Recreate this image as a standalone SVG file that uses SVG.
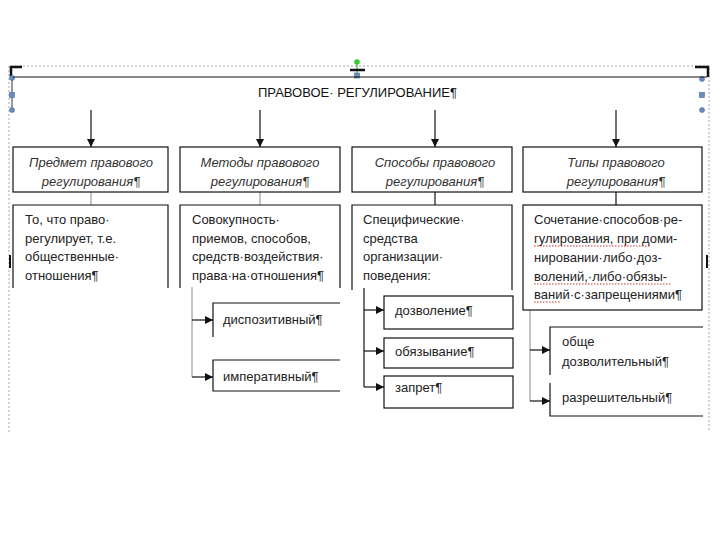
<svg xmlns="http://www.w3.org/2000/svg" width="720" height="540" viewBox="0 0 720 540">
<style>
  .box{fill:#fff;stroke:#111;stroke-width:1.2}
  .open{fill:none;stroke:#111;stroke-width:1.2}
  .hdr{font-family:"Liberation Sans",Arial,sans-serif;font-size:13px;font-style:italic;fill:#333;text-anchor:middle}
  .txt{font-family:"Liberation Sans",Arial,sans-serif;font-size:13px;fill:#222}
  .ttl{font-family:"Liberation Sans",Arial,sans-serif;font-size:13px;fill:#111}
  .con{fill:none;stroke:#111;stroke-width:1.2}
  .gray{fill:none;stroke:#888;stroke-width:1}
  .sel{fill:none;stroke:#9ab;stroke-width:1;stroke-dasharray:2 2}
  .hnd{fill:#6a8cc0;stroke:#4a6a9a;stroke-width:0.6}
  .sq{stroke:#b00;stroke-width:0.8;fill:none;stroke-dasharray:1.5 1.5}
</style>
<defs>
  <marker id="ah" viewBox="0 0 10 10" refX="10" refY="5" markerWidth="8" markerHeight="8" markerUnits="userSpaceOnUse" orient="auto">
    <path d="M0,0 L10,5 L0,10 z" fill="#111"/>
  </marker>
</defs>
<rect width="720" height="540" fill="#fff"/>

<g id="selection">
  <path class="sel" d="M9,432 V66 H709 V432"/>
  <path d="M11,77 V67 H22" fill="none" stroke="#111" stroke-width="2.5"/>
  <path d="M695,67 H708 V77" fill="none" stroke="#111" stroke-width="2.5"/>
  <line x1="12" y1="78" x2="12" y2="110" stroke="#333" stroke-width="1"/>
  <circle class="hnd" cx="12" cy="78" r="2.5"/>
  <rect class="hnd" x="9.5" y="92.5" width="5" height="5"/>
  <circle class="hnd" cx="12" cy="110" r="2.5"/>
  <circle class="hnd" cx="702" cy="79" r="2.5"/>
  <rect class="hnd" x="699.5" y="92.5" width="5" height="5"/>
  <circle class="hnd" cx="702" cy="110" r="2.5"/>
  <line x1="357" y1="62" x2="357" y2="75" stroke="#2a2" stroke-width="1"/>
  <circle cx="357" cy="62" r="2.8" fill="#3c3"/>
  <line x1="350" y1="70" x2="365" y2="70" stroke="#111" stroke-width="2.5"/>
  <rect class="hnd" x="354.5" y="73" width="5" height="5"/>
  <line x1="10" y1="255" x2="10" y2="268" stroke="#111" stroke-width="2"/>
  <line x1="707" y1="255" x2="707" y2="268" stroke="#111" stroke-width="2"/>
</g>

<g id="title">
  <line x1="13" y1="77" x2="707" y2="77" stroke="#111" stroke-width="1.2"/>
  <text class="ttl" x="258" y="97">ПРАВОВОЕ· РЕГУЛИРОВАНИЕ¶</text>
</g>

<g id="connectors">
  <line class="con" x1="91" y1="110" x2="91" y2="147" marker-end="url(#ah)"/>
  <line class="con" x1="260" y1="110" x2="260" y2="147" marker-end="url(#ah)"/>
  <line class="con" x1="435" y1="110" x2="435" y2="147" marker-end="url(#ah)"/>
  <line class="con" x1="616" y1="110" x2="616" y2="147" marker-end="url(#ah)"/>
  <line class="gray" x1="91" y1="192" x2="91" y2="205"/>
  <line class="gray" x1="260" y1="192" x2="260" y2="205"/>
  <line class="con" x1="435" y1="192" x2="435" y2="205"/>
  <line class="con" x1="616" y1="192" x2="616" y2="205"/>
  <line class="gray" x1="192" y1="287" x2="192" y2="377"/>
  <line class="con" x1="192" y1="320" x2="213" y2="320" marker-end="url(#ah)"/>
  <line class="con" x1="192" y1="377" x2="213" y2="377" marker-end="url(#ah)"/>
  <line class="con" x1="364" y1="288" x2="364" y2="387"/>
  <line class="con" x1="364" y1="310" x2="384" y2="310" marker-end="url(#ah)"/>
  <line class="con" x1="364" y1="351" x2="384" y2="351" marker-end="url(#ah)"/>
  <line class="con" x1="364" y1="387" x2="384" y2="387" marker-end="url(#ah)"/>
  <line class="gray" x1="530" y1="310" x2="530" y2="401" stroke="#555"/>
  <line class="con" x1="530" y1="350" x2="550" y2="350" marker-end="url(#ah)"/>
  <line class="con" x1="530" y1="401" x2="550" y2="401" marker-end="url(#ah)"/>
</g>

<g id="h1">
  <rect class="box" x="13" y="147" width="155" height="45"/>
  <text class="hdr" x="91" y="167">Предмет правового</text>
  <text class="hdr" x="91" y="186">регулирования¶</text>
</g>
<g id="h2">
  <rect class="box" x="180" y="147" width="160" height="45"/>
  <text class="hdr" x="260" y="167">Методы правового</text>
  <text class="hdr" x="260" y="186">регулирования¶</text>
</g>
<g id="h3">
  <rect class="box" x="352" y="147" width="160" height="45"/>
  <text class="hdr" x="435" y="167">Способы правового</text>
  <text class="hdr" x="435" y="186">регулирования¶</text>
</g>
<g id="h4">
  <rect class="box" x="523" y="147" width="179" height="45"/>
  <text class="hdr" x="616" y="167">Типы правового</text>
  <text class="hdr" x="616" y="186">регулирования¶</text>
</g>

<g id="d1">
  <path class="open" d="M13,288 V205 H168 V288"/>
  <text class="txt" x="25" y="224">То, что право·</text>
  <text class="txt" x="25" y="243">регулирует, т.е.</text>
  <text class="txt" x="25" y="261">общественные·</text>
  <text class="txt" x="25" y="280">отношения¶</text>
</g>
<g id="d2">
  <path class="open" d="M180,288 V205 H340 V288"/>
  <text class="txt" x="192" y="224">Совокупность·</text>
  <text class="txt" x="192" y="243">приемов, способов,</text>
  <text class="txt" x="192" y="261">средств·воздействия·</text>
  <text class="txt" x="192" y="280">права·на·отношения¶</text>
</g>
<g id="d3">
  <path class="open" d="M352,290 V205 H512 V290"/>
  <text class="txt" x="363" y="224">Специфические·</text>
  <text class="txt" x="363" y="243">средства</text>
  <text class="txt" x="363" y="261">организации·</text>
  <text class="txt" x="363" y="280">поведения:</text>
</g>
<g id="d4">
  <rect class="box" x="523" y="205" width="179" height="105"/>
  <text class="txt" x="534" y="224">Сочетание·способов·ре-</text>
  <text class="txt" x="534" y="243">гулирования, при доми-</text>
  <text class="txt" x="534" y="262">нировании·либо·доз-</text>
  <text class="txt" x="534" y="281">волений,·либо·обязы-</text>
  <text class="txt" x="534" y="299">ваний·с·запрещениями¶</text>
  <path class="sq" d="M534,246 H650 M534,284 H672 M534,302 H560"/>
</g>

<g id="s1">
  <path class="open" d="M213,337 V303 H340"/>
  <text class="txt" x="223" y="324">диспозитивный¶</text>
</g>
<g id="s2">
  <path class="open" d="M340,360 H213 V391 H340"/>
  <text class="txt" x="223" y="381">императивный¶</text>
</g>
<g id="s3">
  <rect class="box" x="384" y="296" width="129" height="33"/>
  <text class="txt" x="395" y="315">дозволение¶</text>
</g>
<g id="s4">
  <rect class="box" x="384" y="338" width="129" height="30"/>
  <text class="txt" x="395" y="356">обязывание¶</text>
</g>
<g id="s5">
  <rect class="box" x="384" y="376" width="129" height="32"/>
  <text class="txt" x="395" y="392">запрет¶</text>
</g>
<g id="s6">
  <path class="open" d="M550,375 V327 H703"/>
  <text class="txt" x="562" y="346">обще</text>
  <text class="txt" x="562" y="366">дозволительный¶</text>
</g>
<g id="s7">
  <path class="open" d="M550,383 V416 H703"/>
  <text class="txt" x="562" y="402">разрешительный¶</text>
</g>
</svg>
